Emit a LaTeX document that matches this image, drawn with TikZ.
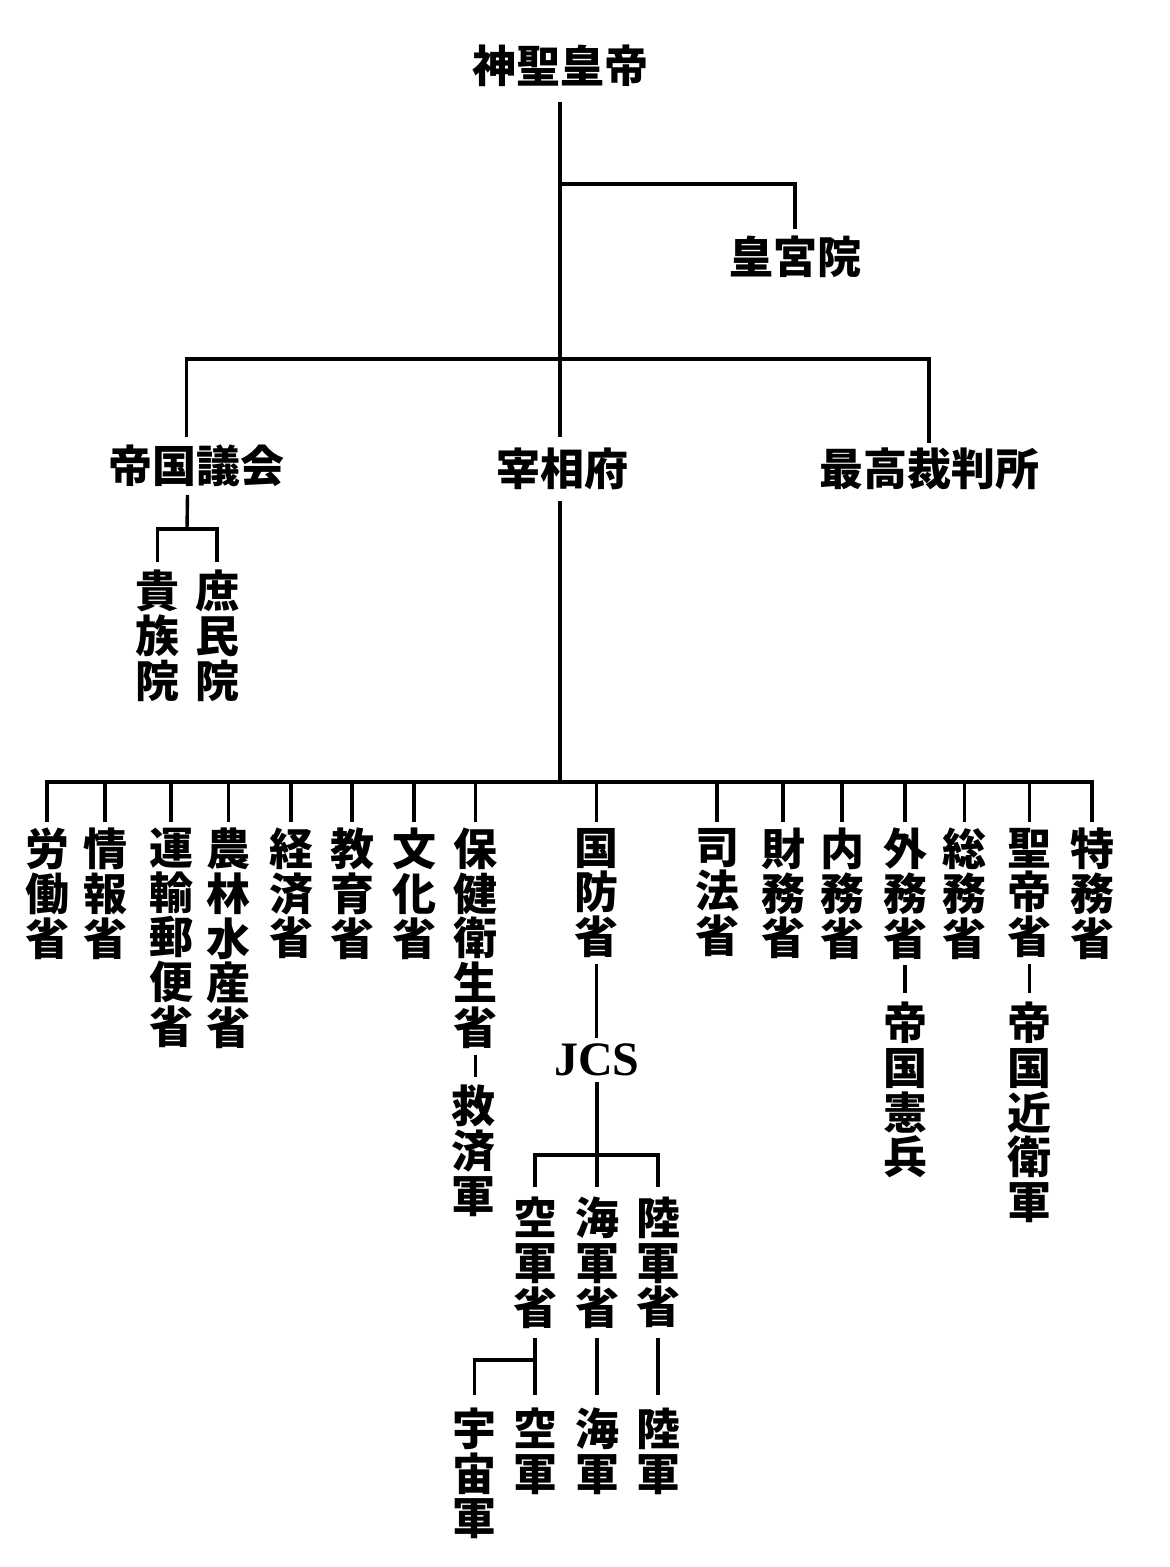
\documentclass[tikz,border=0pt]{standalone}
\usepackage{fontspec}
\newfontfamily\cjk{Noto Sans CJK JP}
\newfontfamily\latinserif{Liberation Serif}
\begin{document}
\begin{tikzpicture}[x=1pt,y=-1pt,
  lbl/.style={inner sep=0pt, outer sep=0pt, outer ysep=7pt, align=center,
    font=\cjk\bfseries\fontsize{44}{44.7}\selectfont},
  vlbl/.style={lbl, anchor=north},
  conn/.style={line width=3.4pt, line join=miter}
]
\fill[white] (0,0) rectangle (1170,1567);
\useasboundingbox (0,0) rectangle (1170,1567);

% top level
\node[lbl, outer ysep=15pt] (emp) at (560,66) {神聖皇帝};
\node[lbl] (kgi) at (795,257) {皇宮院};
\node[lbl, outer ysep=8pt] (gikai) at (196.5,466) {帝国議会};
\node[lbl, outer ysep=11pt] (saisho) at (562,469) {宰相府};
\node[lbl, outer ysep=5pt] (court) at (929,469) {最高裁判所};

\coordinate (j1) at (560,184);
\coordinate (j2) at (560,359);
\coordinate (j4) at (560,782);

\draw[conn] (emp.south) -- (emp.south |- saisho.north);
\draw[conn] (j1) -| (kgi.north);
\draw[conn] ([xshift=-10pt]gikai.north) |- (j2) -| (court.north);

% houses
\node[vlbl, outer ysep=8pt] (kizoku) at (157.5,562) {貴\\族\\院};
\node[vlbl, outer ysep=8pt] (shomin) at (217,562) {庶\\民\\院};
\coordinate (j3) at (187,529);
\draw[conn] ([xshift=-9pt]gikai.south) -- (j3);
\draw[conn] (kizoku.north) |- (j3) -| (shomin.north);

% ministries
\draw[conn] (emp.south |- saisho.south) -- (j4);
\begin{scope}[every node/.style={vlbl, outer ysep=6pt}]
\node (m1) at (47,822) {労\\働\\省};
\node (m2) at (105,822) {情\\報\\省};
\node (m3) at (171,822) {運\\輸\\郵\\便\\省};
\node (m4) at (228.5,822) {農\\林\\水\\産\\省};
\node (m5) at (291,822) {経\\済\\省};
\node (m6) at (352,822) {教\\育\\省};
\node (m7) at (414,822) {文\\化\\省};
\node (m8) at (475.5,822) {保\\健\\衛\\生\\省};
\node (m9) at (596.5,822) {国\\防\\省};
\node (m10) at (717,822) {司\\法\\省};
\node (m11) at (783,822) {財\\務\\省};
\node (m12) at (842,822) {内\\務\\省};
\node (m13) at (905,822) {外\\務\\省};
\node (m14) at (964.5,822) {総\\務\\省};
\node (m15) at (1029.5,822) {聖\\帝\\省};
\node (m16) at (1092,822) {特\\務\\省};
\end{scope}
\draw[conn] (m1.north) |- (j4) -| (m16.north);
\foreach \m in {m2,m3,m4,m5,m6,m7,m8,m9,m10,m11,m12,m13,m14,m15}
  \draw[conn] (\m.north) -- (\m.north |- j4);

% sub-organisations of ministries
\node[vlbl, outer ysep=8pt] (kyusai) at (473.5,1077) {救\\済\\軍};
\draw[conn] (m8.south) -- (m8.south |- kyusai.north);
\node[vlbl, outer ysep=9pt] (kenpei) at (905,993) {帝\\国\\憲\\兵};
\draw[conn] (m13.south) -- (kenpei.north);
\node[vlbl, outer ysep=9pt] (konoe) at (1029.5,993) {帝\\国\\近\\衛\\軍};
\draw[conn] (m15.south) -- (konoe.north);

% defence
\node[inner sep=0pt, outer sep=0pt, outer ysep=6pt,
      font=\latinserif\bfseries\fontsize{48}{48}\selectfont] (jcs) at (597,1060) {JCS};
\draw[conn] (m9.south) -- (m9.south |- jcs.north);
\coordinate (j5) at (597,1155);
\draw[conn] (jcs.south) -- (j5);
\node[vlbl, outer ysep=10pt] (ku) at (535,1187) {空\\軍\\省};
\node[vlbl, outer ysep=10pt] (kai) at (597,1187) {海\\軍\\省};
\node[vlbl, outer ysep=10pt] (riku) at (658,1187) {陸\\軍\\省};
\draw[conn] (ku.north) |- (j5) -| (riku.north);
\draw[conn] (j5) -- (kai.north);

\node[vlbl, outer ysep=13pt] (uchu) at (474.5,1395) {宇\\宙\\軍};
\node[vlbl, outer ysep=13pt] (kugun) at (535,1395) {空\\軍};
\node[vlbl, outer ysep=13pt] (kaigun) at (597,1395) {海\\軍};
\node[vlbl, outer ysep=13pt] (rikugun) at (658,1395) {陸\\軍};
\coordinate (j6) at (535,1360);
\draw[conn] (ku.south) -- (kugun.north);
\draw[conn] (j6) -| (uchu.north);
\draw[conn] (kai.south) -- (kaigun.north);
\draw[conn] (riku.south) -- (rikugun.north);
\end{tikzpicture}
\end{document}
